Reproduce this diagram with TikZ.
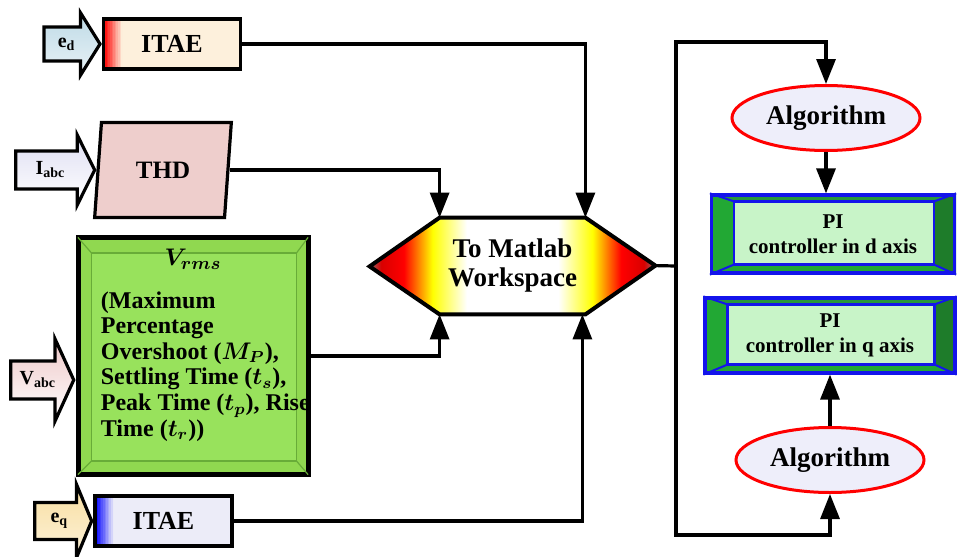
\documentclass[tikz,border=0pt]{standalone}
\usepackage{fontspec}
\setmainfont{Liberation Serif}
\usepackage{amsmath}
\usepackage{amssymb}
\usepackage{xcolor}
\usetikzlibrary{arrows.meta,positioning,shapes.geometric,shapes.arrows,backgrounds}
\definecolor{tmpeach}{RGB}{253,240,220}
\definecolor{tmlav}{RGB}{236,236,248}
\definecolor{tmthdpink}{RGB}{238,206,204}
\definecolor{tmedblue}{RGB}{190,218,230}
\definecolor{tmiabc}{RGB}{222,222,242}
\definecolor{tmvabc}{RGB}{238,200,200}
\definecolor{tmeq}{RGB}{248,222,160}
\definecolor{tmvgreen}{RGB}{144,216,80}
\definecolor{tmvinner}{RGB}{152,226,92}
\definecolor{tmvedge}{RGB}{104,172,56}
\definecolor{tmalgfill}{RGB}{238,238,250}
\definecolor{tmpigreen}{RGB}{34,168,52}
\definecolor{tmpidark}{RGB}{30,124,42}
\definecolor{tmpimid}{RGB}{40,150,60}
\definecolor{tmpilight}{RGB}{200,244,200}
\definecolor{tmpiblue}{RGB}{20,20,235}
\definecolor{tmwsgrey}{RGB}{140,110,110}
\pgfdeclarehorizontalshading{tmwsshade}{100bp}{color(0bp)=(tmwsgrey); color(25bp)=(tmwsgrey); color(27bp)=(red!85!black); color(31bp)=(red); color(36bp)=(yellow); color(42bp)=(white); color(58bp)=(white); color(64bp)=(yellow); color(69bp)=(red); color(73bp)=(red!85!black); color(75bp)=(tmwsgrey); color(100bp)=(tmwsgrey)}
\tikzset{
  tmbox/.style={draw=black, line width=1.6pt, align=center, inner sep=2pt, font=\fontsize{13}{15}\selectfont\bfseries},
  tmitae/.style={tmbox, minimum width=68.5pt, minimum height=25pt},
  % fading edge strip on the left of an ITAE box
  tmedge/.style={path picture={\foreach \k [evaluate=\k as \pct using 100-9*\k] in {0,...,11}
      \fill[#1!\pct!tmitaebg] ([xshift=\k*0.8pt]path picture bounding box.south west) rectangle ([xshift=\k*0.8pt+0.9pt]path picture bounding box.north west);}},
  tmitaered/.style={tmitae, fill=tmpeach, tmedge=red},
  tmitaeblue/.style={tmitae, fill=tmlav, tmedge=blue},
  tmarrin/.style={single arrow, draw=black, line width=1.6pt, inner xsep=1pt, inner ysep=4.6pt, anchor=tip, font=\fontsize{10}{12}\selectfont\bfseries},
  tmalg/.style={ellipse, draw=red, line width=1.5pt, fill=tmalgfill, minimum width=94pt, minimum height=32.5pt, inner sep=0pt, font=\fontsize{13.5}{15}\selectfont\bfseries},
  tmpi/.style={draw=tmpiblue, line width=1.6pt, align=center, inner sep=1pt, font=\fontsize{10.5}{12.5}\selectfont\bfseries},
  tmline/.style={line width=1.6pt, draw=black},
  tmarr/.style={tmline, -{Triangle[length=12.5pt,width=9.5pt]}}
}
% bevelled frame behind a PI box
\newcommand{\tmbevel}[1]{%
  \begin{scope}[on background layer]
    \coordinate (#1-a) at ([shift={(12pt,-4pt)}]#1.north west);
    \coordinate (#1-b) at ([shift={(-11pt,-4pt)}]#1.north east);
    \coordinate (#1-c) at ([shift={(-11pt,5pt)}]#1.south east);
    \coordinate (#1-d) at ([shift={(12pt,5pt)}]#1.south west);
    \fill[tmpigreen] (#1.north west) rectangle (#1.south east);
    \fill[tmpimid] (#1.north west) -- (#1.north east) -- (#1-b) -- (#1-a) -- cycle;
    \fill[tmpidark] (#1.north east) -- (#1.south east) -- (#1-c) -- (#1-b) -- cycle;
    \draw[tmpiblue, line width=1pt] (#1.north west) -- (#1-a) (#1.north east) -- (#1-b)
      (#1.south east) -- (#1-c) (#1.south west) -- (#1-d);
    \draw[tmpiblue, line width=1.3pt, fill=tmpilight] (#1-a) rectangle (#1-c);
  \end{scope}}
\begin{document}
\begin{tikzpicture}[x=0.5pt, y=-0.5pt]
  \useasboundingbox (0,0) rectangle (959,557);
  % left column
  \colorlet{tmitaebg}{tmpeach}
  \node[tmitaered] (itaed) at (172,44) {ITAE};
  \node[tmarrin, minimum height=28pt, single arrow head extend=7pt, single arrow tip angle=116, top color=tmedblue, bottom color=tmedblue!35] (ed) at (itaed.west) {e\textsubscript{d}};
  \node[tmbox, trapezium, trapezium left angle=82, trapezium right angle=98, trapezium stretches=true,
        minimum width=68.5pt, minimum height=47.5pt, fill=tmthdpink, font=\fontsize{12.5}{15}\selectfont\bfseries] (thd) at (163,170) {THD};
  \node[tmarrin, minimum height=39.5pt, single arrow head extend=8pt, single arrow tip angle=127, top color=tmiabc, bottom color=white] (iabc) at (thd.west) {I\textsubscript{abc}};
  \node[draw=black, line width=2.5pt, fill=tmvgreen, minimum width=115pt, minimum height=118.5pt] (vrms) at (193,356) {};
  \draw[tmvedge, line width=0.6pt, fill=tmvinner] ([shift={(8pt,-9pt)}]vrms.north west) rectangle ([shift={(-7pt,8pt)}]vrms.south east);
  \draw[tmvedge, line width=0.6pt] ([shift={(1.2pt,-1.2pt)}]vrms.north west) -- ([shift={(8pt,-9pt)}]vrms.north west)
    ([shift={(-1.2pt,-1.2pt)}]vrms.north east) -- ([shift={(-7pt,-9pt)}]vrms.north east)
    ([shift={(1.2pt,1.2pt)}]vrms.south west) -- ([shift={(8pt,8pt)}]vrms.south west)
    ([shift={(-1.2pt,1.2pt)}]vrms.south east) -- ([shift={(-7pt,8pt)}]vrms.south east);
  \node[font=\fontsize{13}{15}\selectfont\bfseries\boldmath] (vrmslab) at ([yshift=-12pt]vrms.north) {$V_{rms}$};
  \node[anchor=north west, align=left, inner sep=0pt, font=\fontsize{12}{12.8}\selectfont\bfseries\boldmath] (vrmstxt) at ([shift={(12.5pt,-28pt)}]vrms.north west)
    {(Maximum\\Percentage\\Overshoot ($M_P$),\\Settling Time ($t_s$),\\Peak Time ($t_p$), Rise\\Time ($t_r$))};
  \node[tmarrin, minimum height=31.5pt, single arrow head extend=11pt, single arrow tip angle=131, top color=tmvabc, bottom color=white] (vabc) at ([yshift=-12pt]vrms.west) {V\textsubscript{abc}};
  \colorlet{tmitaebg}{tmlav}
  \node[tmitaeblue] (itaeq) at (163.5,521) {ITAE};
  \node[tmarrin, minimum height=28.5pt, single arrow head extend=9pt, single arrow tip angle=135, top color=tmeq, bottom color=tmeq!40] (eq) at (itaeq.west) {e\textsubscript{q}};
  % workspace block
  \node[minimum width=72.5pt, minimum height=48pt, inner sep=0pt, align=center, font=\fontsize{13.5}{14.5}\selectfont\bfseries] (hexcore) at (512.5,266) {To Matlab\\Workspace};
  \begin{scope}[on background layer]
    \path[draw=black, line width=2pt, shading=tmwsshade] (hexcore.north west) -- (hexcore.north east) -- ++(70,48) coordinate (hexE)
      -- (hexcore.south east) -- (hexcore.south west) -- ++(-70,-48) coordinate (hexW) -- cycle;
  \end{scope}
  \draw[tmarr] (itaed.east) -| (hexcore.north east);
  \draw[tmarr] (thd.east) -| (hexcore.north west);
  \draw[tmarr] (vrms.east) -| (hexcore.south west);
  \draw[tmarr] (itaeq.east) -| ([xshift=-1.5pt]hexcore.south east);
  % right column
  \node[tmalg] (algd) at (826,118) {Algorithm};
  \node[tmpi, minimum width=121.5pt, minimum height=39pt] (piD) at (833,234) {PI\\controller in d axis};
  \tmbevel{piD}
  \node[tmpi, minimum width=125pt, minimum height=37.5pt] (piQ) at (830,335.5) {PI\\controller in q axis};
  \tmbevel{piQ}
  \node[tmalg] (algq) at (830,460) {Algorithm};
  \coordinate (split) at (676,266);
  \draw[tmline] (hexE) -- (split);
  \draw[tmarr] (split) |- ([yshift=21pt]algd.north) -- (algd.north);
  \draw[tmarr] (split) |- ([yshift=-20.5pt]algq.south) -- (algq.south);
  \draw[tmarr] (algd.south) -- (algd.south |- piD.north);
  \draw[tmarr] (algq.north) -- (algq.north |- piQ.south);
\end{tikzpicture}
\end{document}
